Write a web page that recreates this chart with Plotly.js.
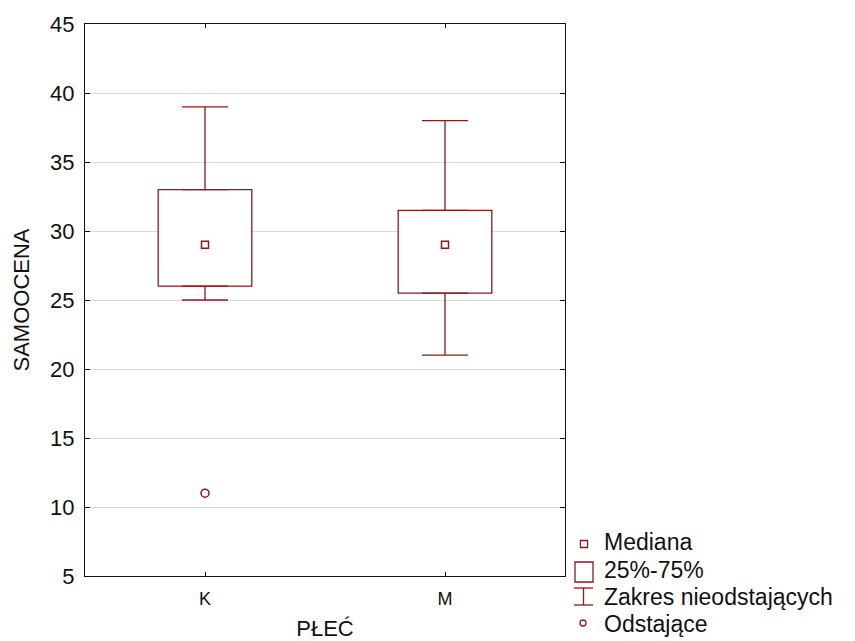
<!DOCTYPE html>
<html>
<head>
<meta charset="utf-8">
<script src="https://cdn.plot.ly/plotly-3.0.1.min.js"></script>
<style>html,body{margin:0;padding:0;background:#fff;}#chart{width:855px;height:641px;}</style>
</head>
<body>
<div id="chart"></div>
<script>
// ---- data ----
const categories = ['K', 'M'];
const medians = [29, 29];
const q1 = [26, 25.5];
const q3 = [33, 31.5];
const lowerWhisker = [25, 21];
const upperWhisker = [39, 38];
const outlierCats = ['K'];
const outlierValues = [11];
const yTicks = [5, 10, 15, 20, 25, 30, 35, 40, 45];
const legendLabels = ['Mediana', '25%-75%', 'Zakres nieodstających', 'Odstające'];

// ---- style ----
const RED = '#8b1a1a';
const FONT = 'Liberation Sans, Arial, sans-serif';
const W = 855, H = 641;
const M = {l: 85, r: 290, t: 24, b: 65};
const plotW = W - M.l - M.r, plotH = H - M.t - M.b;
const px = x => (x - M.l) / plotW;
const py = y => (H - M.b - y) / plotH;

const traces = [
  {
    type: 'bar', x: categories, base: q1,
    y: q3.map((v, i) => v - q1[i]),
    width: 0.39,
    marker: {color: '#ffffff', line: {color: RED, width: 1.3}},
    showlegend: false, hoverinfo: 'skip'
  },
  {
    type: 'scatter', mode: 'markers', x: categories, y: q3,
    marker: {size: 1, color: 'rgba(0,0,0,0)'},
    error_y: {type: 'data', symmetric: false,
      array: upperWhisker.map((v, i) => v - q3[i]),
      arrayminus: categories.map(() => 0),
      color: RED, thickness: 1.3, width: 23},
    showlegend: false, hoverinfo: 'skip'
  },
  {
    type: 'scatter', mode: 'markers', x: categories, y: q1,
    marker: {size: 1, color: 'rgba(0,0,0,0)'},
    error_y: {type: 'data', symmetric: false,
      array: categories.map(() => 0),
      arrayminus: q1.map((v, i) => v - lowerWhisker[i]),
      color: RED, thickness: 1.3, width: 23},
    showlegend: false, hoverinfo: 'skip'
  },
  {
    type: 'scatter', mode: 'markers', x: categories, y: medians,
    marker: {symbol: 'square-open', size: 7, color: RED, line: {width: 1.5, color: RED}},
    showlegend: false, hoverinfo: 'skip'
  },
  {
    type: 'scatter', mode: 'markers', x: outlierCats, y: outlierValues,
    marker: {symbol: 'circle-open', size: 8, color: RED, line: {width: 1.5, color: RED}},
    showlegend: false, hoverinfo: 'skip'
  }
];

// legend icons (paper coords)
const lw = {color: RED, width: 1.3};
const shapes = [
  {type: 'rect', xref: 'paper', yref: 'paper', x0: px(580.5), x1: px(587.5), y0: py(547.5), y1: py(540.5), line: lw},
  {type: 'rect', xref: 'paper', yref: 'paper', x0: px(575), x1: px(593), y0: py(582), y1: py(562), line: lw},
  {type: 'line', xref: 'paper', yref: 'paper', x0: px(583.5), x1: px(583.5), y0: py(605), y1: py(588), line: lw},
  {type: 'line', xref: 'paper', yref: 'paper', x0: px(574), x1: px(593), y0: py(588), y1: py(588), line: lw},
  {type: 'line', xref: 'paper', yref: 'paper', x0: px(574), x1: px(593), y0: py(605), y1: py(605), line: lw},
  {type: 'circle', xref: 'paper', yref: 'paper', x0: px(580), x1: px(586), y0: py(626), y1: py(620), line: lw}
];
const legendY = [542, 570, 597, 624];
const annotations = legendLabels.map((t, i) => ({
  xref: 'paper', yref: 'paper', x: px(602), y: py(legendY[i]),
  xanchor: 'left', yanchor: 'middle', showarrow: false, text: t,
  font: {family: FONT, size: 23, color: '#111'}
}));

const layout = {
  width: W, height: H, margin: M,
  paper_bgcolor: '#fff', plot_bgcolor: '#fff',
  showlegend: false,
  font: {family: FONT, color: '#111'},
  xaxis: {
    type: 'category', categoryarray: categories, range: [-0.5, 1.5],
    showline: true, linecolor: '#111', linewidth: 1, mirror: 'ticks',
    ticks: 'inside', ticklen: 4, tickcolor: '#111', showgrid: false, zeroline: false,
    tickfont: {family: FONT, size: 18, color: '#111'}, ticklabelstandoff: 6,
    title: {text: 'PŁEĆ', font: {family: FONT, size: 22, color: '#111'}, standoff: 15}
  },
  yaxis: {
    range: [5, 45], tickvals: yTicks, ticktext: yTicks.map(String),
    showline: true, linecolor: '#111', linewidth: 1, mirror: 'ticks',
    ticks: 'inside', ticklen: 5, tickcolor: '#111',
    showgrid: true, gridcolor: '#d9d9d9', gridwidth: 1, zeroline: false,
    tickfont: {family: FONT, size: 22, color: '#111'}, ticklabelstandoff: 5,
    title: {text: 'SAMOOCENA', font: {family: FONT, size: 22, color: '#111'}, standoff: 14}
  },
  shapes: shapes,
  annotations: annotations
};

Plotly.newPlot('chart', traces, layout, {displayModeBar: false, staticPlot: true});
</script>
</body>
</html>
